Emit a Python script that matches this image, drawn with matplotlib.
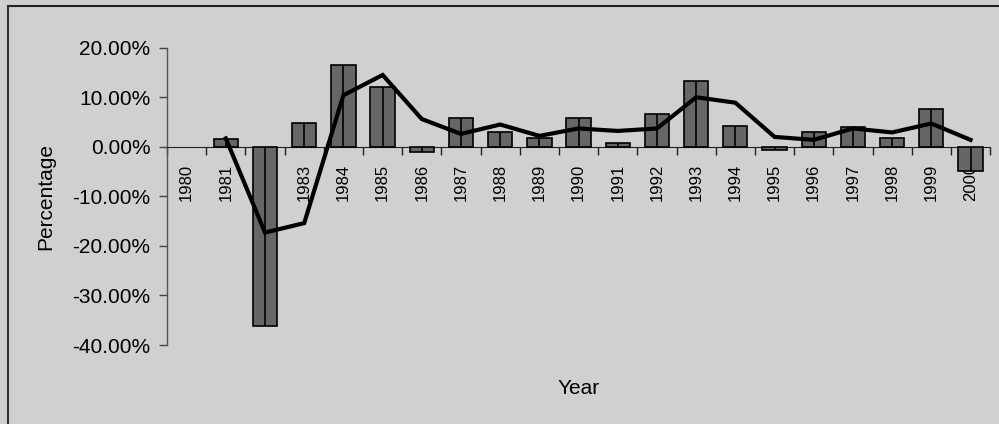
import numpy as np
import matplotlib.pyplot as plt
from matplotlib import font_manager
from matplotlib.lines import Line2D
from matplotlib.ticker import FuncFormatter, FixedLocator

plt.rcParams['axes.unicode_minus'] = False
plt.rcParams['font.family'] = ['Liberation Sans', 'DejaVu Sans']

# 年份与数据（百分比）
years = [str(y) for y in range(1980, 2001)]
bar_values = [np.nan, 1.5, -36.1, 4.8, 16.5, 12.1, -1.0, 5.9, 2.9, 1.7, 5.8,
              0.8, 6.6, 13.3, 4.2, -0.6, 3.0, 4.0, 1.8, 7.7, -4.8]
line_values = [np.nan, 1.7, -17.3, -15.4, 10.4, 14.5, 5.6, 2.6, 4.5, 2.2, 3.7,
               3.2, 3.7, 10.0, 8.9, 2.0, 1.4, 3.7, 2.9, 4.7, 1.4]
y_ticks = [20, 10, 0, -10, -20, -30, -40]

# 年份标签用窄字体（没有就用普通字体缩小字号）
installed = {f.name for f in font_manager.fontManager.ttflist}
if 'Liberation Sans Narrow' in installed:
    year_font, year_size = 'Liberation Sans Narrow', 14.5
else:
    year_font, year_size = 'Liberation Sans', 12

bg = '#d0d0d0'
fig = plt.figure(figsize=(9.99, 4.24), dpi=100, facecolor=bg)
ax = fig.add_axes([0.1672, 0.1863, 0.8239, 0.7012])
ax.set_facecolor(bg)

x = np.arange(len(years))
bar_values = np.array(bar_values, dtype=float)
ax.bar(x, bar_values, width=0.62, color='#666666', edgecolor='black',
       linewidth=1.2, zorder=3)
# 柱子中间的竖线
ax.vlines(x, 0, np.nan_to_num(bar_values), color='black', linewidth=1.2, zorder=3.1)
ax.plot(x, line_values, color='black', linewidth=3, zorder=4,
        solid_joinstyle='miter')

ax.set_xlim(-0.5, len(years) - 0.5)
ax.set_ylim(-40, 20)
ax.set_yticks(y_ticks)
ax.yaxis.set_major_formatter(FuncFormatter(lambda v, p: f'{v:.2f}%'))

# 标签在类别中心（主刻度），刻度线在类别之间（次刻度）
ax.set_xticks(x)
ax.set_xticklabels(years)
ax.xaxis.set_minor_locator(FixedLocator(np.arange(-0.5, len(years))))
ax.tick_params(axis='x', which='major', length=0, pad=12, labelrotation=90,
               labelsize=year_size, labelfontfamily=year_font)
ax.tick_params(axis='x', which='minor', length=6, width=1, direction='out',
               color='#222222')
ax.tick_params(axis='y', length=6, width=1, color='#444444', labelsize=15,
               pad=6)
for lbl in ax.get_xticklabels():
    lbl.set_verticalalignment('top')

ax.spines['top'].set_visible(False)
ax.spines['right'].set_visible(False)
ax.spines['bottom'].set_position(('data', 0))
ax.spines['bottom'].set_color('#222222')
ax.spines['left'].set_color('#555555')
ax.spines['left'].set_linewidth(1.0)
ax.spines['left'].set_bounds(-40, 20)

ax.set_ylabel('Percentage', fontsize=15, labelpad=12)
fig.text(0.579, 1 - 388 / 424, 'Year', fontsize=15, ha='center', va='center')

# 外框（上边与左边）
fig.add_artist(Line2D([7.5 / 999, 1.0], [1 - 5.5 / 424, 1 - 5.5 / 424],
                      transform=fig.transFigure, color='#222222', linewidth=1.5))
fig.add_artist(Line2D([7.5 / 999, 7.5 / 999], [1 - 5.5 / 424, 0.0],
                      transform=fig.transFigure, color='#333333', linewidth=1.5))

fig.savefig('out.png', dpi=100, facecolor=bg)
